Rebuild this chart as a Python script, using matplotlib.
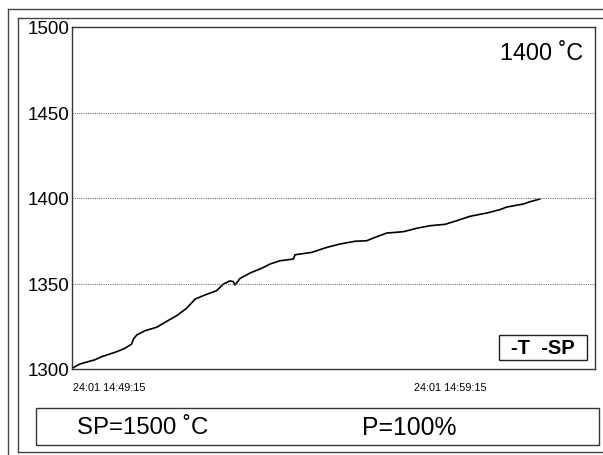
import matplotlib
matplotlib.use("Agg")
import matplotlib.pyplot as plt
from matplotlib.lines import Line2D
from matplotlib.patches import Rectangle

# ---- data (minutes since 14:49:15, temperature in °C) ----
t_min = [0.00, 0.23, 0.67, 0.87, 1.31, 1.55, 1.75, 1.80, 1.90, 2.14, 2.48, 2.78,
         3.07, 3.36, 3.61, 3.85, 4.24, 4.44, 4.63, 4.73, 4.78, 4.93, 5.22, 5.56,
         5.81, 6.10, 6.49, 6.54, 7.03, 7.47, 7.86, 8.30, 8.64, 8.89, 9.23, 9.72,
         10.11, 10.50, 10.94, 11.28, 11.67, 12.16, 12.55, 12.75, 13.24, 13.43, 13.72]
temp = [1300.4, 1302.9, 1305.4, 1307.2, 1310.1, 1312.1, 1314.6, 1317.5, 1319.9, 1322.4, 1324.4, 1327.9,
        1331.2, 1335.5, 1340.9, 1342.9, 1345.8, 1349.7, 1351.5, 1351.1, 1349.1, 1353.0, 1356.1, 1358.9,
        1361.4, 1363.3, 1364.3, 1366.8, 1368.2, 1371.1, 1373.1, 1374.7, 1375.0, 1377.0, 1379.5, 1380.3,
        1382.3, 1383.8, 1384.6, 1386.7, 1389.3, 1391.2, 1393.2, 1394.7, 1396.5, 1397.8, 1399.4]
y_ticks = [1300, 1350, 1400, 1450, 1500]
x_tick_pos = [0, 10]
x_tick_labels = ["24:01 14:49:15", "24:01 14:59:15"]
current_text = "1400 ˚C"
sp_text = "SP=1500 ˚C"
p_text = "P=100%"
legend_text = "-T  -SP"

plt.rcParams['font.family'] = ['Liberation Sans', 'DejaVu Sans']

W, H = 603, 456
fig = plt.figure(figsize=(W / 100, H / 100), dpi=100)

def fx(x):
    return x / W

def fy(y):
    return 1 - y / H

# frames
frame_col = '#444444'
for (x0, y0, x1, y1) in [(8, 10, 603, 10), (8, 10, 8, 456),
                         (18, 19, 603, 19), (18, 19, 18, 453), (18, 453, 603, 453)]:
    fig.add_artist(Line2D([fx(x0), fx(x1)], [fy(y0), fy(y1)], color=frame_col, lw=1.0,
                          transform=fig.transFigure))

# plot axes
L, T, R, B = 72, 28, 595, 370
ax = fig.add_axes([fx(L), fy(B), fx(R - L), (B - T) / H])
ax.plot(t_min, temp, color='black', lw=1.2)
ax.set_ylim(1300, 1500)
ax.set_xlim(0, (R - L) / 34.1)
ax.set_yticks(y_ticks)
ax.set_yticklabels([str(v) for v in y_ticks], fontsize=13.5)
ax.tick_params(axis='y', length=0, pad=2)
ax.set_xticks([])
for v in y_ticks[1:-1]:
    ax.axhline(v, color='#777777', lw=0.8, ls=(0, (1, 1)))
for s in ax.spines.values():
    s.set_color('#333333')
    s.set_linewidth(1.0)

# x tick labels (left aligned at tick position)
for pos, lab in zip(x_tick_pos, x_tick_labels):
    ax.annotate(lab, xy=(pos, 1300), xycoords='data', xytext=(1, -13),
                textcoords='offset points', ha='left', va='center', fontsize=7.8,
                annotation_clip=False)

# current value
fig.text(fx(583), fy(54), current_text, ha='right', va='center', fontsize=16.8)

# legend box
fig.add_artist(Rectangle((fx(499), fy(361)), fx(587 - 499), (361 - 336) / H, fill=False,
                         edgecolor='#222222', lw=1.0, transform=fig.transFigure))
fig.text(fx(543), fy(349), legend_text, ha='center', va='center', fontsize=14.5,
         fontweight='bold')

# bottom status box
fig.add_artist(Rectangle((fx(36), fy(446)), fx(599 - 36), (446 - 409) / H, fill=False,
                         edgecolor='#333333', lw=1.0, transform=fig.transFigure))
fig.text(fx(77), fy(428), sp_text, ha='left', va='center', fontsize=17.3)
fig.text(fx(362), fy(428), p_text, ha='left', va='center', fontsize=17.8)

fig.savefig('out.png', dpi=100)
